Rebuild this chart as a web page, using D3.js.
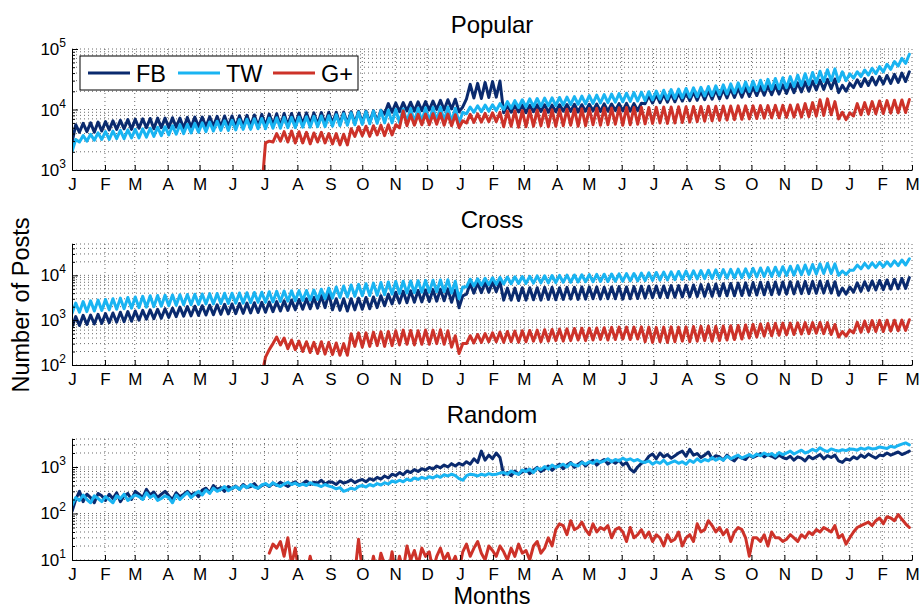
<!DOCTYPE html>
<html><head><meta charset="utf-8">
<script src="https://cdn.jsdelivr.net/npm/d3@7"></script>
<style>body{margin:0;background:#fff}svg{font-family:"Liberation Sans",Arial,Helvetica,sans-serif}</style>
</head><body><svg id="c" width="920" height="608"></svg>
<script>
// ---- tick labels / names ----
const months = ["J","F","M","A","M","J","J","A","S","O","N","D","J","F","M","A","M","J","J","A","S","O","N","D","J","F","M"];
const seriesNames = ["FB","TW","G+"];
const panelTitles = ["Popular","Cross","Random"];
const yDomains = [[1e3,1e5],[1e2,5e4],[1e1,4e3]];
// samples every 3.5 days from 1 Jan 2011 (weekend low, weekday high alternating)
const gplusStartSample = [51, 51, 53];

// ---- Popular ----
const popularFB = [
2800,5600, 4200,5900, 4300,6000, 4200,6200, 4400,6300,
4600,6500, 4700,6600, 4800,6800, 4700,6900,
4900,7000, 5000,7100, 4800,7200, 5000,7200,
5000,7300, 5100,7200, 4900,7400, 5100,7500, 5200,7500,
5200,7600, 5300,7700, 5200,7800, 5300,7800,
5200,7900, 5300,8000, 5400,8100, 5300,8300,
5400,8400, 5500,8500, 5300,8600, 5400,8600, 5600,8700,
5700,8800, 5800,8800, 5600,8900, 5800,9000,
5900,9000, 5700,9100, 5900,9200, 6000,9300,
6100,9400, 6200,9500, 6300,9700, 8500,12500, 9000,12800,
9200,13000, 9500,13200, 9400,13400, 9600,13500,
9800,13800, 10000,14200, 9800,14500, 10200,14800,
9200,11000,
15000,26000, 15500,27000, 15200,28000, 15800,29000,
16000,29500,
8800,11500, 9000,11600, 9100,11800, 8900,11700, 9200,11900, 9300,12000, 9000,11800, 9200,12000, 9400,12100, 9300,12200, 9100,12000, 9400,12200, 9500,12300, 9300,12400, 9400,12300, 9600,12500, 9500,12600, 9400,12500, 9600,12700,
12500,17000, 12800,17500, 13000,18000, 13200,18300, 13400,18600,
13800,19000, 14000,19500, 14200,20000, 14500,20500, 14800,21000,
15000,21500, 15500,22000, 15800,22500, 16000,23000,
16500,23500, 17000,24000, 17200,24700, 17500,25000, 18000,25500,
18500,26500, 19000,27500, 19500,28500, 20000,29500,
21000,30500, 21500,31500, 22000,32000, 19000,25000, 20000,27000,
23000,31000, 24000,32500, 25000,34000, 25500,35000,
26500,36500, 27000,38000, 28000,40000, 29000,42000
];
const popularTW = [
2000,3200, 2900,3700, 3000,3900, 3100,4100, 3200,4300,
3200,4400, 3300,4500, 3300,4600, 3400,4700,
3400,4800, 3500,4900, 3600,5100, 3700,5200,
3800,5400, 3900,5600, 4000,5700, 4100,5900, 4200,6000,
4300,6200, 4400,6400, 4500,6500, 4500,6600,
4600,6800, 4700,6900, 4700,7000, 4800,7100,
4800,7200, 4900,7300, 4900,7400, 5000,7400, 5000,7500,
5100,7600, 5100,7700, 5200,7800, 5200,7900,
5300,8200, 5400,8500, 5500,8800, 5600,9000,
5700,9200, 5800,9400, 5900,9600, 6000,9800, 6000,10000,
6100,10200, 6200,10400, 6200,10500, 6300,10700,
6300,10800, 6400,11000, 6400,11000, 6200,10500,
6000,9000,
8500,11000, 9000,11500, 9200,11800, 9400,12000,
9600,12500,
10000,13500, 10500,14000, 10800,14500, 11000,15000, 11200,15200, 11300,15400, 11500,15600, 11600,15800, 11800,16000, 12000,16300, 12200,16600, 12400,17000, 12600,17300, 12800,17600, 13000,18000, 13200,18300, 13400,18600, 13600,19000, 13800,19300,
14000,19700, 14400,20200, 14800,20800, 15000,21300, 15300,21800,
15600,22300, 16000,22800, 16300,23300, 16700,24000, 17000,24600,
17500,25500, 18000,26500, 18600,27500, 19200,28500,
19800,29500, 20500,30500, 21000,31500, 21500,32500, 22000,33500,
23000,35000, 24000,37000, 25000,39000, 26000,41000,
27500,43000, 29000,45500, 30000,47000, 29000,42000, 30000,39000,
33000,42000, 35000,45000, 37000,48000, 39000,51000,
42000,56000, 46000,62000, 52000,70000, 58000,82000
];
const popularGP = [
500,
2800,3000, 2900,4000, 3000,4300, 2900,4400, 2800,4300,
2800,4200, 2700,4100, 2900,4200, 2800,4000,
2700,4000, 2600,3900, 2600,4800, 3600,5200,
3700,5300, 3600,5400, 3800,5500, 3700,5600, 3800,5600,
5000,9500, 5400,8200, 5500,8300, 5600,8400,
5600,8500, 5700,8600, 5500,8400, 5400,8200,
5000,6500,
6000,8300, 6100,8500, 6200,8600, 6300,8800,
6300,9000,
5200,9400, 5300,9500, 5100,9600, 5200,9700, 5300,9800, 5400,9800, 5200,9900, 5300,10000, 5400,10100, 5500,10200, 5300,10300, 5400,10400, 5600,10500, 5500,10600, 5600,10600, 5700,10700, 5500,10800, 5600,10800, 5700,10900,
5800,10800, 5900,10900, 6000,11000, 5900,11000, 6000,11100,
6100,11100, 6200,11200, 6300,11200, 6400,11300, 6500,11300,
6600,11400, 6700,11400, 6800,11500, 6900,11500,
7000,11500, 7100,11600, 7200,11600, 7300,11700, 7300,11700,
7400,11800, 7500,12000, 7500,12500, 7600,13000,
7800,14500, 8000,15000, 8200,13500, 7000,9000, 6800,8800,
7800,12500, 8200,13000, 8400,13500, 8500,13800,
8600,14000, 8700,14200, 8800,14400, 8900,14600
];

// ---- Cross ----
const crossFB = [
700,1200, 760,1280, 800,1300, 820,1350, 850,1400,
880,1450, 900,1500, 920,1550, 950,1600,
1000,1650, 1050,1700, 1080,1750, 1100,1800,
1150,1850, 1200,1950, 1230,2000, 1250,2050, 1280,2100,
1300,2150, 1320,2200, 1350,2250, 1380,2300,
1400,2350, 1420,2400, 1450,2450, 1480,2500,
1500,2550, 1550,2600, 1600,2700, 1650,2800, 1700,2900,
1750,3000, 1800,3200, 1850,3500, 1900,4000,
1700,3000, 1650,3000, 1600,3000, 1700,3100,
1750,3200, 1800,3300, 1900,3500, 2100,3800, 2300,4200,
2400,4400, 2450,4500, 2500,4600, 2550,4700,
2600,4800, 2650,4900, 2700,5000, 2500,4700,
1900,3500,
3800,6500, 4000,6800, 4100,7000, 4200,7100,
4300,7200,
2800,5200, 2800,5200, 2750,5300, 2800,5300, 2850,5300, 2800,5400, 2900,5400, 2850,5300, 2900,5400, 2950,5400, 2900,5500, 2950,5500, 3000,5500, 2950,5400, 3000,5500, 3000,5600, 2950,5500, 3000,5600, 3050,5700,
3100,5700, 3150,5800, 3200,5800, 3200,5900, 3250,5900,
3300,6000, 3300,6100, 3350,6200, 3400,6300, 3400,6400,
3450,6500, 3500,6600, 3500,6700, 3550,6800,
3600,6900, 3650,7000, 3700,7000, 3700,7100, 3750,7100,
3800,7200, 3850,7200, 3900,7300, 3900,7300,
3950,7400, 4000,7400, 4000,7200, 3600,5200, 3800,5500,
4200,6800, 4400,7200, 4600,7500, 4700,7700,
4800,7900, 4900,8200, 5000,8500, 5100,8900
];
const crossTW = [
1400,2400, 1500,2600, 1550,2700, 1600,2800, 1650,2900,
1700,3000, 1750,3100, 1800,3200, 1850,3300,
1900,3400, 1950,3500, 2000,3550, 2050,3600,
2100,3650, 2150,3700, 2200,3750, 2200,3800, 2250,3850,
2300,3900, 2300,3950, 2350,4000, 2350,4000,
2400,4050, 2400,4100, 2450,4150, 2500,4200,
2500,4300, 2550,4400, 2600,4450, 2650,4500, 2700,4550,
2750,4600, 2800,4700, 2900,4900, 3000,5200,
3100,5500, 3200,5800, 3300,6100, 3400,6300,
3500,6500, 3550,6700, 3600,6900, 3700,7100, 3800,7300,
3900,7400, 4000,7500, 4100,7600, 4200,7700,
4200,7800, 4300,7900, 4300,8000, 4000,7400,
3000,5500,
5500,8200, 5800,8400, 6000,8600, 6200,8800,
6300,9000,
6400,9200, 6500,9300, 6600,9400, 6600,9500, 6700,9700, 6800,9800, 6800,9900, 6900,10000, 7000,10100, 7000,10200, 7100,10300, 7200,10400, 7200,10500, 7300,10600, 7300,10700, 7400,10800, 7400,10900, 7500,11000, 7500,11200,
7600,11400, 7700,11600, 7800,11800, 7900,12000, 8000,12200,
8100,12400, 8200,12600, 8300,12800, 8400,13000, 8500,13200,
8600,13400, 8700,13600, 8800,13800, 8900,14000,
9000,14300, 9200,14600, 9400,14900, 9500,15200, 9700,15600,
9900,16000, 10100,16500, 10300,17000, 10500,17500,
10700,18000, 11000,18500, 11000,18000, 10000,12500, 10500,13000,
13000,17000, 14000,18500, 14500,19000, 15000,19500,
15500,20000, 16000,21000, 16500,22000, 17000,23500
];
const crossGP = [
60,
150,220, 300,420, 280,400, 230,360, 220,340,
200,330, 190,320, 180,330, 175,320,
170,310, 165,300, 165,500, 260,520,
250,520, 260,540, 270,550, 260,560, 270,580,
280,600, 290,590, 280,580, 290,600,
290,600, 300,610, 290,580, 250,450,
180,300,
300,450, 310,480, 320,500, 330,520,
330,540,
320,560, 330,570, 320,580, 330,590, 340,600, 330,610, 340,620, 350,630, 340,640, 350,650, 360,660, 350,660, 360,670, 370,680, 360,690, 370,700, 380,700, 370,700, 380,710,
330,700, 320,690, 330,700, 320,710, 330,700,
340,710, 330,720, 340,730, 350,740, 340,730,
350,740, 360,750, 370,760, 380,780,
400,800, 420,820, 440,840, 450,850, 460,860,
470,860, 480,870, 490,880, 500,880,
510,890, 500,880, 480,800, 420,560, 440,600,
520,900, 540,950, 550,980, 560,990,
560,1000, 570,1000, 580,1000, 590,1020
];

// ---- Random ----
const randomFB = [
110,200, 300,180, 260,220, 170,270, 240,190,
260,210, 280,180, 240,270, 200,300,
260,220, 330,250, 290,220, 260,300,
240,200, 280,230, 260,300, 250,280, 230,320,
350,280, 400,330, 360,300, 380,340,
390,330, 420,360, 380,440, 350,400,
430,380, 450,400, 470,420, 380,440, 480,410,
440,500, 420,470, 450,520, 430,480,
470,420, 500,450, 480,530, 460,510,
540,480, 560,520, 600,550, 640,580, 700,650,
760,680, 820,760, 880,800, 920,860,
980,900, 1050,960, 1100,1000, 1180,1050,
1200,1100,
1300,1150, 1500,1250, 2200,1400, 1800,1500,
2000,1600,
680,760, 650,820, 700,780, 900,720, 850,980, 800,900, 1050,850, 1000,1150, 920,1100, 1250,980, 1150,1300, 1050,1250, 1400,1100, 1300,1450, 1150,1350, 1200,1400, 1100,1250, 900,780, 1000,1200,
1300,1700, 1900,1500, 2000,1650, 1850,1550, 1750,2000,
2200,1700, 2400,1800, 1950,1600, 1800,2100, 1500,1750,
1650,1400, 1800,1500, 1350,1700, 1550,1450,
1800,1600, 1750,1950, 1650,1850, 1700,1550, 1800,1600,
1500,1700, 1400,1650, 1550,1350, 1700,1500,
1650,1850, 1500,1750, 1600,1800, 1350,1250, 1500,1400,
1650,1500, 1800,1600, 1900,1700, 1550,1800,
1750,2000, 1800,1950, 2100,1850, 2000,2200
];
const randomTW = [
150,220, 190,250, 200,170, 240,210, 180,230,
200,170, 240,210, 260,190, 220,250,
230,200, 280,220, 250,190, 210,240,
220,170, 250,200, 240,280, 220,260, 300,250,
320,270, 350,300, 330,380, 310,350,
380,330, 400,360, 420,370, 350,410,
440,390, 460,410, 380,430, 470,420, 450,400,
430,400, 460,420, 410,380, 420,390,
370,340, 360,300, 320,350, 330,380,
400,370, 420,390, 440,410, 460,430, 500,470,
520,480, 550,510, 580,540, 600,560,
620,580, 650,600, 680,640, 700,650,
560,520,
650,700, 680,640, 700,660, 720,680,
700,740,
760,700, 820,740, 700,860, 800,900, 760,950, 880,1020, 900,1100, 980,1050, 1150,1000, 1200,1100, 1050,1250, 1150,1300, 1200,1400, 1250,1350, 1500,1300, 1450,1350, 1550,1400, 1500,1350, 1450,1300,
1250,1350, 1150,1300, 1200,1400, 1150,1250, 1350,1200,
1300,1150, 1400,1250, 1500,1300, 1450,1350, 1600,1400,
1550,1400, 1700,1500, 1650,1800, 1550,1700,
1850,1650, 1900,1750, 2000,1800, 1950,1700, 2050,1850,
2000,2200, 1900,2100, 2300,2000, 2150,2400,
2200,2600, 2300,2150, 2450,2300, 2200,2350, 2250,2450,
2400,2300, 2550,2400, 2600,2450, 2500,2700,
2600,2500, 2800,2650, 2900,3100, 3300,3000
];
const randomGP = [
14,
22,18, 25,12, 30,8, 18,5,
5,5, 12,5, 5,5, 8,5,
5,5, 5,5, 5,5, 5,28,
6,5, 5,12, 5,14, 8,5, 15,5,
12,6, 20,10, 16,8, 18,12,
15,6, 12,18, 10,14, 8,12,
6,15,
22,12, 18,25, 14,10, 20,16,
12,20,
15,10, 18,12, 22,14, 16,10, 20,25, 14,18, 30,20, 45,60, 55,35, 70,45, 50,65, 45,35, 60,40, 50,45, 55,30, 45,50, 40,25, 50,30, 35,45,
30,40, 25,35, 30,20, 35,25, 28,40,
20,30, 35,25, 60,40, 45,70, 55,40,
50,35, 45,25, 40,50, 45,30,
12,30, 30,25, 35,20, 40,30, 30,25,
28,35, 30,25, 35,30, 40,35,
45,40, 50,45, 40,55, 30,35, 22,30,
40,50, 55,60, 65,55, 70,80,
60,85, 80,70, 95,75, 60,50
];

const panelData = [
  [popularFB, popularTW, popularGP],
  [crossFB, crossTW, crossGP],
  [randomFB, randomTW, randomGP]
];

// ---- drawing ----
const colors = ["#0a2a6e", "#19b4f2", "#cd3229"];
const FONT = '"Liberation Sans", Arial, Helvetica, sans-serif';
const svg = d3.select("#c");
const T0 = Date.UTC(2011,0,1), T1 = Date.UTC(2013,2,1), DAY = 864e5, STEP = 3.5;
const x = d3.scaleUtc().domain([T0, T1]).range([72, 912]);
const monthTicks = d3.utcMonth.range(T0, T1 + DAY);
const tops = [49, 244, 439], PH = 121;

panelData.forEach((series, p) => {
  const top = tops[p], bottom = top + PH;
  const y = d3.scaleLog().domain(yDomains[p]).range([bottom, top]);
  const g = svg.append("g");
  const [d0, d1] = yDomains[p];
  const majors = [], minors = [];
  for (let e = Math.floor(Math.log10(d0)); e <= Math.ceil(Math.log10(d1)); e++) {
    for (let m = 1; m <= 9; m++) {
      const v = m * Math.pow(10, e);
      if (v >= d0 * 0.999 && v <= d1 * 1.001) (m === 1 ? majors : minors).push(v);
    }
  }
  // grid
  const grid = g.append("g").attr("stroke", "#444").attr("stroke-width", 0.8).attr("stroke-dasharray", "1,3");
  majors.concat(minors).forEach(v => {
    grid.append("line").attr("x1", 72).attr("x2", 912).attr("y1", y(v)).attr("y2", y(v));
  });
  monthTicks.slice(1).forEach(t => {
    grid.append("line").attr("x1", x(t)).attr("x2", x(t)).attr("y1", top).attr("y2", bottom);
  });
  // clip
  const cid = "clip" + p;
  svg.append("clipPath").attr("id", cid).append("rect")
    .attr("x", 72).attr("y", top).attr("width", 840).attr("height", PH);
  const lines = g.append("g").attr("clip-path", `url(#${cid})`);
  series.forEach((arr, s) => {
    const start = s === 2 ? gplusStartSample[p] : 0;
    const pts = arr.map((v, i) => ({t: T0 + (start + i) * STEP * DAY, v}));
    const line = d3.line().x(d => x(d.t)).y(d => y(Math.max(d.v, d0 / 10)));
    lines.append("path").attr("d", line(pts)).attr("fill", "none")
      .attr("stroke", colors[s]).attr("stroke-width", 3)
      .attr("stroke-linejoin", "round").attr("stroke-linecap", "round");
  });
  // axes
  const xa = g.append("g").attr("transform", `translate(0,${bottom})`)
    .call(d3.axisBottom(x).tickValues(monthTicks).tickSizeInner(-5).tickSizeOuter(0).tickPadding(8)
      .tickFormat((d, i) => months[i]));
  xa.attr("font-family", FONT).attr("font-size", 17);
  xa.selectAll("text").attr("fill", "#000");
  xa.selectAll("line,path").attr("stroke", "#000");
  const ya = g.append("g").attr("transform", "translate(72,0)")
    .call(d3.axisLeft(y).tickValues(majors).tickSizeInner(-6).tickSizeOuter(0).tickFormat(""));
  ya.selectAll("line,path").attr("stroke", "#000");
  const ym = g.append("g").attr("transform", "translate(72,0)")
    .call(d3.axisLeft(y).tickValues(minors).tickSizeInner(-3).tickSizeOuter(0).tickFormat(""));
  ym.select(".domain").remove();
  ym.selectAll("line").attr("stroke", "#000");
  majors.forEach(v => {
    const t = g.append("text").attr("x", 66).attr("y", y(v) + 6).attr("text-anchor", "end")
      .attr("font-family", FONT).attr("font-size", 17).attr("fill", "#000");
    t.append("tspan").text("10");
    t.append("tspan").attr("dy", -8).attr("font-size", 12).text(String(Math.round(Math.log10(v))));
  });
  // title
  g.append("text").attr("x", 492).attr("y", top - 16).attr("text-anchor", "middle")
    .attr("font-family", FONT).attr("font-size", 24).attr("fill", "#000").text(panelTitles[p]);
});

// legend (first panel)
const lg = svg.append("g");
lg.append("rect").attr("x", 80).attr("y", 56).attr("width", 278).attr("height", 34)
  .attr("fill", "#fff").attr("stroke", "#000").attr("stroke-width", 1);
const legX = [88, 178, 273];
seriesNames.forEach((n, i) => {
  lg.append("line").attr("x1", legX[i]).attr("x2", legX[i] + 42).attr("y1", 73).attr("y2", 73)
    .attr("stroke", colors[i]).attr("stroke-width", 3);
  lg.append("text").attr("x", legX[i] + 48).attr("y", 81.5).attr("font-family", FONT)
    .attr("font-size", 23.5).attr("fill", "#000").text(n);
});

// axis labels
svg.append("text").attr("transform", "translate(29,305) rotate(-90)").attr("text-anchor", "middle")
  .attr("font-family", FONT).attr("font-size", 23.5).attr("fill", "#000").text("Number of Posts");
svg.append("text").attr("x", 492).attr("y", 604).attr("text-anchor", "middle")
  .attr("font-family", FONT).attr("font-size", 23.5).attr("fill", "#000").text("Months");
</script></body></html>
